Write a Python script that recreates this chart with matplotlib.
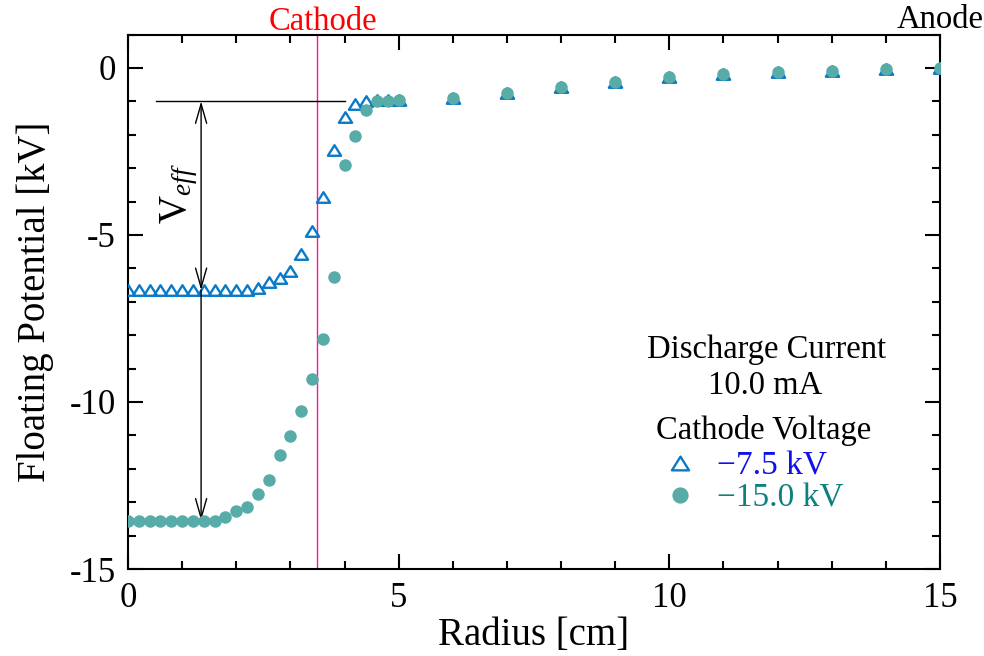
import matplotlib
matplotlib.use('Agg')
import matplotlib.pyplot as plt
import matplotlib.transforms as mtransforms
from matplotlib.path import Path

plt.rcParams['font.family'] = ['Liberation Serif', 'DejaVu Serif']
plt.rcParams['mathtext.fontset'] = 'custom'
plt.rcParams['mathtext.rm'] = 'Liberation Serif'
plt.rcParams['mathtext.it'] = 'Liberation Serif:italic'

# ---------------- data ----------------
radius = [0.0, 0.2, 0.4, 0.6, 0.8, 1.0, 1.2, 1.4, 1.6, 1.8, 2.0, 2.2, 2.4,
          2.6, 2.8, 3.0, 3.2, 3.4, 3.6, 3.8, 4.0, 4.2, 4.4, 4.6, 4.8, 5.0,
          6, 7, 8, 9, 10, 11, 12, 13, 14, 15]
v_7_5 = [-6.65, -6.65, -6.65, -6.65, -6.65, -6.65, -6.65, -6.65, -6.65, -6.65,
         -6.65, -6.65, -6.60, -6.41, -6.28, -6.08, -5.57, -4.87, -3.87, -2.46,
         -1.48, -1.09, -1.00, -0.97, -0.96, -0.95,
         -0.89, -0.74, -0.57, -0.41, -0.27, -0.19, -0.12, -0.08, -0.04, 0.0]
v_15_0 = [-13.55, -13.55, -13.55, -13.55, -13.55, -13.55, -13.55, -13.55, -13.55,
          -13.45, -13.26, -13.14, -12.74, -12.34, -11.58, -11.02, -10.27, -9.30,
          -8.11, -6.26, -2.90, -2.03, -1.26, -1.00, -0.98, -0.97,
          -0.89, -0.74, -0.57, -0.41, -0.27, -0.19, -0.12, -0.08, -0.04, 0.0]
series_labels = ['\u22127.5 kV', '\u221215.0 kV']
cathode_pos = 3.5
anode_pos = 15
veff_x = 1.35
veff_top = -1.0
xticks = [0, 5, 10, 15]
xtick_labels = ['0', '5', '10', '15']
yticks = [0, -5, -10, -15]
ytick_labels = ['0', '-5', '-10', '-15']

tri_color = '#0A7AC8'
dot_color = '#58ACA8'

# slightly flattened open triangle
tri_marker = Path([(0, 0.8), (-1, -0.8), (1, -0.8), (0, 0.8)],
                  [Path.MOVETO, Path.LINETO, Path.LINETO, Path.CLOSEPOLY])

fig = plt.figure(figsize=(9.84, 6.56), dpi=100)
ax = fig.add_axes([0.1301, 0.1326, 0.8252, 0.8148])

ax.axvline(cathode_pos, color='#FF1493', lw=1.0, zorder=1)

h1, = ax.plot(radius, v_7_5, ls='none', marker=tri_marker, ms=9.5, mfc='none',
              mec=tri_color, mew=1.7, zorder=3)
h2, = ax.plot(radius, v_15_0, ls='none', marker='o', ms=9, mfc=dot_color,
              mec=dot_color, mew=0.0, zorder=4)

ax.set_xlim(0, 15)
ax.set_ylim(-15, 1)
ax.set_xticks(xticks)
ax.set_xticklabels(xtick_labels)
ax.set_yticks(yticks)
ax.set_yticklabels(ytick_labels)
ax.set_xticks(range(0, 16), minor=True)
ax.set_yticks(range(-15, 2), minor=True)
ax.tick_params(which='both', direction='in', top=True, right=True, width=1.5,
               labelsize=25)
ax.tick_params(which='major', length=11)
ax.tick_params(which='minor', length=5.5)
ax.tick_params(axis='x', pad=9)
ax.tick_params(axis='y', pad=9)
for sp in ax.spines.values():
    sp.set_linewidth(1.5)

ax.set_xlabel('Radius [cm]', fontsize=28, labelpad=2)
ax.set_ylabel('Floating Potential [kV]', fontsize=28, labelpad=11)

# V_eff annotation
ax.plot([0.52, 4.01], [veff_top, veff_top], color='black', lw=1.0, zorder=2)
ax.annotate('', xy=(veff_x, veff_top), xytext=(veff_x, v_7_5[0]),
            arrowprops=dict(arrowstyle='<->,head_length=1.4,head_width=0.4',
                            lw=1.0, color='black', shrinkA=0, shrinkB=0))
ax.annotate('', xy=(veff_x, v_15_0[0]), xytext=(veff_x, v_7_5[0]),
            arrowprops=dict(arrowstyle='->,head_length=1.4,head_width=0.4',
                            lw=1.0, color='black', shrinkA=0, shrinkB=0))
ax.text(0.94, -3.76, r'V$_{eff}$', rotation=90, fontsize=28,
        ha='center', va='center')

# top labels
trans = mtransforms.blended_transform_factory(ax.transData, ax.transAxes)
ax.text(3.6, 1.008, 'Cathode', color='red', fontsize=23.5, ha='center',
        va='baseline', transform=trans)
ax.text(anode_pos, 1.012, 'Anode', color='black', fontsize=23.5, ha='center',
        va='baseline', transform=trans)

# legend header
ax.text(0.787, 0.3948, 'Discharge Current', fontsize=23.5, ha='center',
        va='baseline', transform=ax.transAxes)
ax.text(0.7845, 0.3274, '10.0 mA', fontsize=23.5, ha='center',
        va='baseline', transform=ax.transAxes)
ax.text(0.783, 0.2432, 'Cathode Voltage', fontsize=23.5, ha='center',
        va='baseline', transform=ax.transAxes)

leg = ax.legend([h1, h2], series_labels, loc='upper left',
                bbox_to_anchor=(0.6595, 0.221), frameon=False, fontsize=24,
                handlelength=1.0, handletextpad=0.6, markerscale=1.3,
                labelspacing=0.06, borderpad=0, borderaxespad=0)
for t, c in zip(leg.get_texts(), ['#1010E8', '#0E8080']):
    t.set_color(c)

fig.savefig('out.png', dpi=100)
